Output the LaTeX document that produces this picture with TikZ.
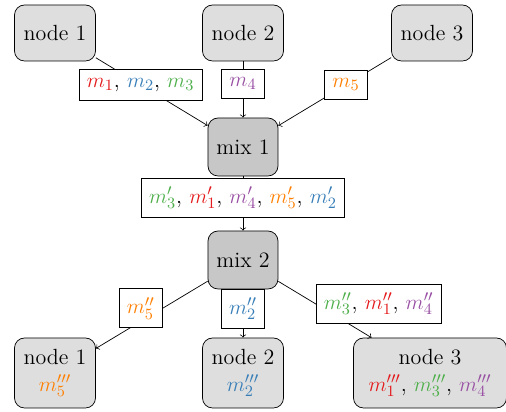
\documentclass[tikz,border=0pt]{standalone}
\usepackage{tikz}

\definecolor{cred}{HTML}{E41A1C}
\definecolor{cblue}{HTML}{377EB8}
\definecolor{cgreen}{HTML}{4DAF4A}
\definecolor{cpurple}{HTML}{984EA3}
\definecolor{corange}{HTML}{FF7F00}

\begin{document}
\begin{tikzpicture}[
    font=\fontsize{12.5}{15}\selectfont,
    party/.style={draw,rounded corners=0.2cm,fill=black!13,minimum width=1.62cm,minimum height=1.12cm,align=center},
    mixer/.style={draw,rounded corners=0.2cm,fill=black!22,minimum width=1.4cm,minimum height=1.16cm},
    msg/.style={draw,fill=white,inner xsep=4.5pt,inner ysep=5pt,minimum width=0.86cm,pos=0.4}]
  \useasboundingbox (0,0) rectangle (10.12,-8.24);
  \node[party] (in1) at (1.1,-0.66) {node 1};
  \node[party] (in2) at (4.86,-0.66) {node 2};
  \node[party] (in3) at (8.64,-0.66) {node 3};
  \node[mixer] (mix1) at (4.86,-2.94) {mix 1};
  \node[mixer] (mix2) at (4.86,-5.2) {mix 2};
  \node[party,minimum height=1.4cm] (out1) at (1.1,-7.46) {node 1\\ $\color{corange}m_5'''$};
  \node[party,minimum height=1.4cm] (out2) at (4.86,-7.46) {node 2\\ $\color{cblue}m_2'''$};
  \node[party,minimum height=1.4cm,minimum width=3.06cm] (out3) at (8.6,-7.46) {node 3\\ $\color{cred}m_1'''$, $\color{cgreen}m_3'''$, $\color{cpurple}m_4'''$};
  \draw[->] (in1) -- node[msg] (l1) {$\color{cred}m_1$, $\color{cblue}m_2$, $\color{cgreen}m_3$} (mix1);
  \draw[->] (in2) -- node[msg] (l2) {$\color{cpurple}m_4$} (mix1);
  \draw[->] (in3) -- node[msg] (l3) {$\color{corange}m_5$} (mix1);
  \draw[->] (mix1) -- node[msg] (l4) {$\color{cgreen}m_3'$, $\color{cred}m_1'$, $\color{cpurple}m_4'$, $\color{corange}m_5'$, $\color{cblue}m_2'$} (mix2);
  \draw[->] (mix2) -- node[msg,anchor=east] (l5) {$\color{corange}m_5''$} (out1);
  \draw[->] (mix2) -- node[msg] (l6) {$\color{cblue}m_2''$} (out2);
  \draw[->] (mix2) -- node[msg,anchor=west] (l7) {$\color{cgreen}m_3''$, $\color{cred}m_1''$, $\color{cpurple}m_4''$} (out3);
\end{tikzpicture}
\end{document}
